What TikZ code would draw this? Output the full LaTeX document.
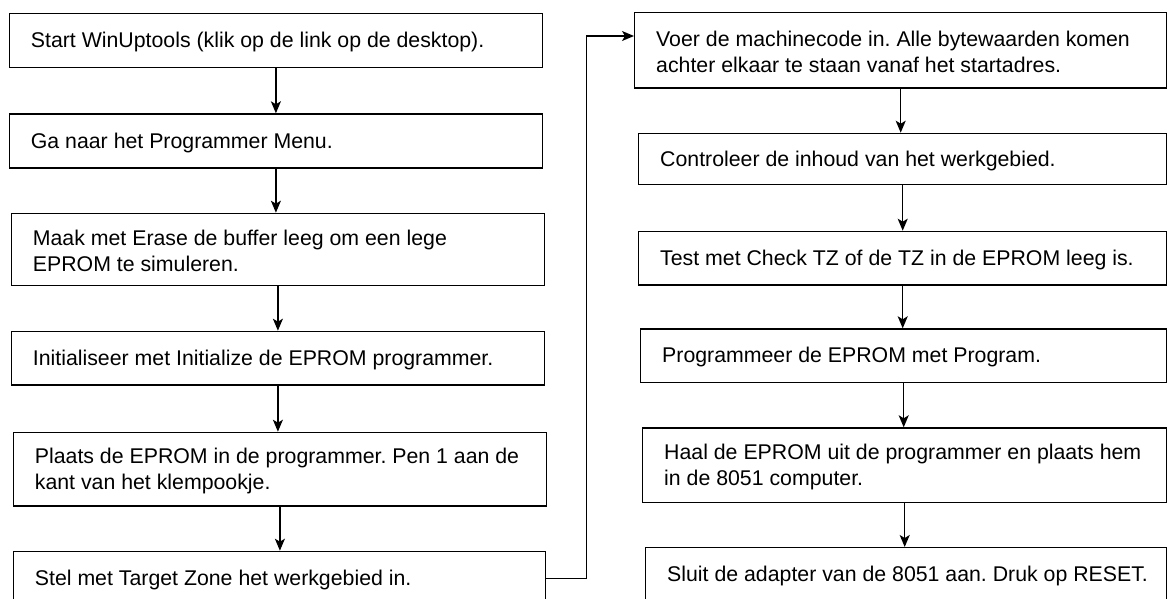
\documentclass[tikz,border=0pt]{standalone}
\usepackage{fontspec}
\setmainfont{Liberation Sans}
\usetikzlibrary{arrows.meta}
\frenchspacing

% one process step: framed box plus its left-aligned text
% #1 name, #2 x, #3 y (top-left corner), #4 width, #5 height, #6 text
\newcommand\flowstep[6]{%
  \node[stepbox, minimum width=#4pt, minimum height=#5pt] (#1) at (#2,#3) {};
  \node[steptext] (#1t) at ([xshift=22pt,yshift=-1.5pt]#1.west) {#6};%
}

\begin{document}
\begin{tikzpicture}[x=1pt,y=-1pt,
  stepbox/.style={draw=black, line width=1.4pt, inner sep=0pt, anchor=north west},
  steptext/.style={anchor=west, inner sep=0pt, align=left,
    font=\fontsize{21.3}{26}\selectfont},
  flow/.style={line width=1.4pt, -{Stealth[length=12pt,width=10pt,inset=3pt]}}]
\clip (0,0) rectangle (1167,599);

% left column
\flowstep{b1}{8.7}{12.7}{533}{54}{Start WinUptools (klik op de link op de desktop).}
\flowstep{b2}{8.7}{113.3}{533}{54}{Ga naar het Programmer Menu.}
\flowstep{b3}{10.7}{212.7}{533}{72.3}{Maak met Erase de buffer leeg om een lege\\EPROM te simuleren.}
\flowstep{b4}{10.7}{330.7}{533}{53.6}{Initialiseer met Initialize de EPROM programmer.}
\flowstep{b5}{12.7}{431.7}{533}{73.6}{Plaats de EPROM in de programmer. Pen 1 aan de\\kant van het klempookje.}
\flowstep{b6}{12.7}{550.7}{532}{54}{Stel met Target Zone het werkgebied in.}

% right column
\flowstep{r1}{634}{12}{532}{75.3}{Voer de machinecode in. Alle bytewaarden komen\\achter elkaar te staan vanaf het startadres.}
\flowstep{r2}{638}{132.7}{528}{51.3}{Controleer de inhoud van het werkgebied.}
\flowstep{r3}{638}{230.7}{528}{53.6}{Test met Check TZ of de TZ in de EPROM leeg is.}
\flowstep{r4}{640}{328.3}{526}{53.4}{Programmeer de EPROM met Program.}
\flowstep{r5}{642}{427.3}{524}{74.2}{Haal de EPROM uit de programmer en plaats hem\\in de 8051 computer.}
\flowstep{r6}{645}{547}{521}{54}{Sluit de adapter van de 8051 aan. Druk op RESET.}

% vertical flow within each column
\foreach \a/\b in {b1/b2,b2/b3,b3/b4,b4/b5,b5/b6,r1/r2,r2/r3,r3/r4,r4/r5,r5/r6}
  \draw[flow] (\a.south) -- (\a.south |- \b.north);

% jump from the last left step to the top of the right column
\coordinate (jump) at (586.7,36);
\draw[flow] (b6.east) -| (jump) -- (jump -| r1.west);
\end{tikzpicture}
\end{document}
